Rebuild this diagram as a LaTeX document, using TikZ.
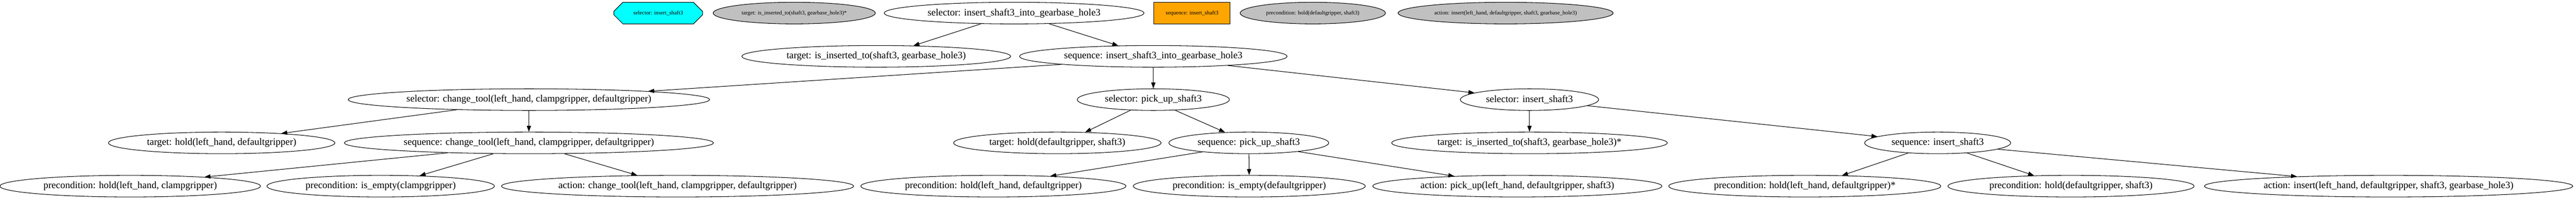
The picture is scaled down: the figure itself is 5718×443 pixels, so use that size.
\documentclass[tikz,border=0pt]{standalone}
\usepackage{fontspec}
\setmainfont{Liberation Serif}
\usetikzlibrary{shapes.geometric,shapes.misc,arrows.meta}
\definecolor{keycyan}{RGB}{0,255,255}
\definecolor{keyorange}{RGB}{255,165,0}
\definecolor{keygray}{RGB}{192,192,192}

\begin{document}
\begin{tikzpicture}[x=0.75pt, y=-0.75pt, >={Triangle[length=10pt,width=7pt]},
  btnode/.style={draw, ellipse, line width=0.9pt, inner xsep=9pt, inner ysep=2pt, minimum height=36pt, font=\fontsize{16.3pt}{19pt}\selectfont},
  keynode/.style={draw, line width=0.9pt, inner xsep=8pt, inner ysep=2pt, minimum height=36pt, font=\fontsize{9.3pt}{11pt}\selectfont},
  link/.style={->, line width=0.9pt}]
\useasboundingbox (0,0) rectangle (5718,443);

\node[keynode, chamfered rectangle, chamfered rectangle xsep=43pt, chamfered rectangle ysep=9.4pt, minimum width=148pt, fill=keycyan] (keysel) at (1461,29) {selector: insert\_shaft3};
\node[keynode, ellipse, fill=keygray] (keytgt) at (1763,29) {target: is\_inserted\_to(shaft3, gearbase\_hole3)*};
\node[keynode, rectangle, minimum width=127pt, fill=keyorange] (keyseq) at (2646,29) {sequence: insert\_shaft3};
\node[keynode, ellipse, fill=keygray] (keypre) at (2914,29) {precondition: hold(defaultgripper, shaft3)};
\node[keynode, ellipse, fill=keygray] (keyact) at (3342,29) {action: insert(left\_hand, defaultgripper, shaft3, gearbase\_hole3)};

\node[btnode] (root) at (2251,29) {selector: insert\_shaft3\_into\_gearbase\_hole3};

\node[btnode] (tgtroot) at (1945,125) {target: is\_inserted\_to(shaft3, gearbase\_hole3)};
\node[btnode] (seqroot) at (2560,125) {sequence: insert\_shaft3\_into\_gearbase\_hole3};

\node[btnode] (seltool) at (1174,221) {selector: change\_tool(left\_hand, clampgripper, defaultgripper)};
\node[btnode] (selpick) at (2560,221) {selector: pick\_up\_shaft3};
\node[btnode] (selins) at (3395,221) {selector: insert\_shaft3};

\node[btnode] (tgttool) at (492,317) {target: hold(left\_hand, defaultgripper)};
\node[btnode] (seqtool) at (1174,317) {sequence: change\_tool(left\_hand, clampgripper, defaultgripper)};
\node[btnode] (tgtpick) at (2347,317) {target: hold(defaultgripper, shaft3)};
\node[btnode] (seqpick) at (2772,317) {sequence: pick\_up\_shaft3};
\node[btnode] (tgtins) at (3395,317) {target: is\_inserted\_to(shaft3, gearbase\_hole3)*};
\node[btnode] (seqins) at (4301,317) {sequence: insert\_shaft3};

\node[btnode] (pretoolA) at (289,413) {precondition: hold(left\_hand, clampgripper)};
\node[btnode] (pretoolB) at (845,413) {precondition: is\_empty(clampgripper)};
\node[btnode] (acttool) at (1504,413) {action: change\_tool(left\_hand, clampgripper, defaultgripper)};
\node[btnode] (prepickA) at (2205,413) {precondition: hold(left\_hand, defaultgripper)};
\node[btnode] (prepickB) at (2773,413) {precondition: is\_empty(defaultgripper)};
\node[btnode] (actpick) at (3368,413) {action: pick\_up(left\_hand, defaultgripper, shaft3)};
\node[btnode] (preinsA) at (4006,413) {precondition: hold(left\_hand, defaultgripper)*};
\node[btnode] (preinsB) at (4597,413) {precondition: hold(defaultgripper, shaft3)};
\node[btnode] (actins) at (5302,413) {action: insert(left\_hand, defaultgripper, shaft3, gearbase\_hole3)};

\draw[link] (root.198) -- (tgtroot.16);
\draw[link] (root.343) -- (seqroot.163);
\draw[link] (seqroot.185) -- (seltool.4);
\draw[link] (seqroot) -- (selpick);
\draw[link] (seqroot.353) -- (selins.173);
\draw[link] (seltool.188) -- (tgttool.9);
\draw[link] (seltool) -- (seqtool);
\draw[link] (seqtool.187) -- (pretoolA.7);
\draw[link] (seqtool.197) -- (pretoolB.15);
\draw[link] (seqtool.343) -- (acttool.165);
\draw[link] (selpick.205) -- (tgtpick.21);
\draw[link] (selpick.334) -- (seqpick.156);
\draw[link] (seqpick.191) -- (prepickA.10);
\draw[link] (seqpick) -- (prepickB);
\draw[link] (seqpick.350) -- (actpick.171);
\draw[link] (selins) -- (tgtins);
\draw[link] (selins.354) -- (seqins.174);
\draw[link] (seqins.199) -- (preinsA.16);
\draw[link] (seqins.341) -- (preinsB.164);
\draw[link] (seqins.354) -- (actins.174);
\end{tikzpicture}
\end{document}
